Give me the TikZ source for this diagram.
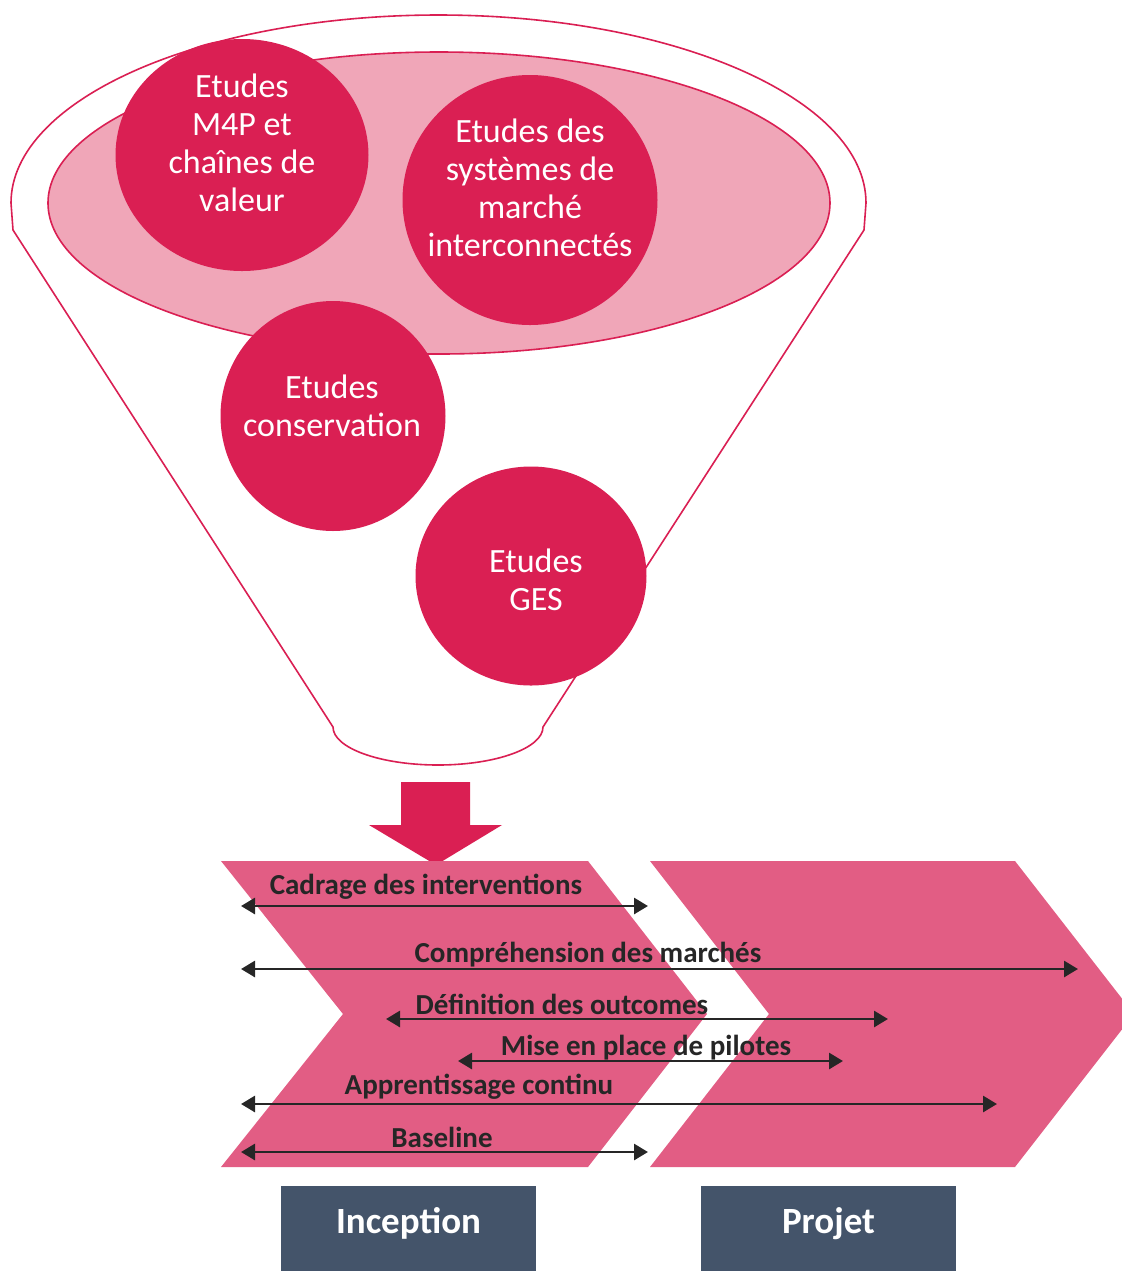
\documentclass[tikz,border=0pt]{standalone}
\usepackage{fontspec}
\setmainfont{Carlito}
\usetikzlibrary{shapes,arrows.meta,positioning}

\definecolor{crimson}{HTML}{DA1F53}
\definecolor{blush}{HTML}{F0A6B8}
\definecolor{rosechev}{HTML}{E25D84}
\definecolor{slate}{HTML}{44546A}
\definecolor{ink}{HTML}{262626}

\tikzset{
  disc/.style={ellipse, fill=crimson, inner sep=0pt},
  studytext/.style={text=white, align=center, inner sep=0pt,
    font=\fontsize{17}{19}\selectfont},
  timeline/.style={{Triangle[length=7pt,width=8pt]}-{Triangle[length=7pt,width=8pt]},
    line width=1.4pt, draw=ink},
  spanlabel/.style={font=\bfseries\fontsize{14.5}{17}\selectfont, text=ink, inner sep=0pt},
  phase/.style={rectangle, fill=slate, text=white, inner sep=0pt, text height=12pt, text depth=7pt,
    minimum width=127.5pt, minimum height=42.5pt, font=\bfseries\fontsize{18.5}{22}\selectfont},
}

\begin{document}
\begin{tikzpicture}[x=0.5pt,y=-0.5pt]
  \useasboundingbox (0,0) rectangle (1122,1271);
  %funnel
  \draw[crimson, line width=0.8pt, fill=white] (13,230) -- (11,203)
    arc[start angle=180, end angle=0, x radius=213.75pt, y radius=94pt] -- (864,230)
    -- (543,727) arc[start angle=0, end angle=-180, x radius=52.5pt, y radius=19pt] -- cycle;
  \draw[crimson, line width=0.8pt, fill=blush] (439,203) ellipse [x radius=195.5pt, y radius=75.5pt];
  %studies
  \node[disc, minimum width=126.5pt, minimum height=116pt] (m4p) at (242,155) {};
  \node[disc, minimum width=127.5pt, minimum height=125pt] (systemes) at (530,200) {};
  \node[disc, minimum width=112.5pt, minimum height=115pt] (conservation) at (333,416) {};
  \node[disc, minimum width=115.5pt, minimum height=109.5pt] (ges) at (531,576) {};
  \node[studytext] (m4p-text) at (242,143) {Etudes\\M4P et\\chaînes de\\valeur};
  \node[studytext] (systemes-text) at (530,188) {Etudes des\\systèmes de\\marché\\interconnectés};
  \node[studytext] (conservation-text) at (332,406) {Etudes\\conservation};
  \node[studytext] (ges-text) at (536,580) {Etudes\\GES};
  %big arrow
  \fill[crimson] (401,782) -- (470,782) -- (470,825) -- (502,825) -- (436,865)
    -- (369,825) -- (401,825) -- cycle;
  %chevrons
  \fill[rosechev] (221,861) -- (588,861) -- (707,1014) -- (588,1167) -- (221,1167) -- (343,1014) -- cycle;
  \fill[rosechev] (650,861) -- (1015,861) -- (1134,1014) -- (1015,1167) -- (650,1167) -- (769,1014) -- cycle;
  %timelines
  \coordinate (cadrage-w) at (241,906);
  \coordinate (cadrage-e) at (648,906);
  \coordinate (marches-w) at (241,969);
  \coordinate (marches-e) at (1078,969);
  \coordinate (outcomes-w) at (386,1019);
  \coordinate (outcomes-e) at (888,1019);
  \coordinate (pilotes-w) at (458,1061);
  \coordinate (pilotes-e) at (843,1061);
  \coordinate (apprentissage-w) at (241,1104);
  \coordinate (apprentissage-e) at (997,1104);
  \coordinate (baseline-w) at (241,1152);
  \coordinate (baseline-e) at (648,1152);
  \draw[timeline] (cadrage-w) -- (cadrage-e);
  \draw[timeline] (marches-w) -- (marches-e);
  \draw[timeline] (outcomes-w) -- (outcomes-e);
  \draw[timeline] (pilotes-w) -- (pilotes-e);
  \draw[timeline] (apprentissage-w) -- (apprentissage-e);
  \draw[timeline] (baseline-w) -- (baseline-e);
  \node[spanlabel] (cadrage) at (426,887) {Cadrage des interventions};
  \node[spanlabel] (marches) at (588,955) {Compréhension des marchés};
  \node[spanlabel] (outcomes) at (562,1004) {Définition des outcomes};
  \node[spanlabel] (pilotes) at (646,1048) {Mise en place de pilotes};
  \node[spanlabel] (apprentissage) at (479,1087) {Apprentissage continu};
  \node[spanlabel] (baseline) at (442,1137) {Baseline};
  %phases
  \node[phase] (inception) at (408.5,1228.5) {Inception};
  \node[phase] (projet) at (828.5,1228.5) {Projet};
\end{tikzpicture}
\end{document}
